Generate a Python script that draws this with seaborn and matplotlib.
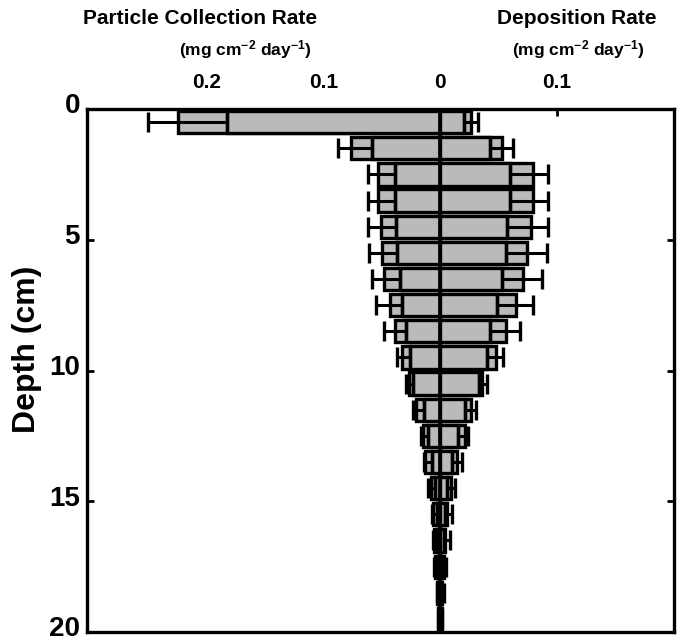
import numpy as np
import pandas as pd
import matplotlib
matplotlib.use("Agg")
import matplotlib.pyplot as plt
import matplotlib.transforms as mtransforms
import seaborn as sns

# depth of each sediment slice (cm, centre of slice)
depth = [0.5, 1.5, 2.5, 3.5, 4.5, 5.5, 6.5, 7.5, 8.5, 9.5,
         10.5, 11.5, 12.5, 13.5, 14.5, 15.5, 16.5, 17.5, 18.5, 19.5]

# particle collection rate (drawn to the left), mg cm-2 day-1
coll_outer = [0.224, 0.076, 0.053, 0.053, 0.051, 0.050, 0.048, 0.043, 0.039, 0.033,
              0.027, 0.021, 0.015, 0.013, 0.008, 0.006, 0.005, 0.004, 0.003, 0.002]
coll_inner = [0.182, 0.058, 0.039, 0.039, 0.038, 0.037, 0.034, 0.033, 0.029, 0.026,
              0.023, 0.014, 0.010, 0.007, 0.004, 0.003, 0.003, 0.002, 0.002, 0.001]
coll_cap = [0.250, 0.087, 0.062, 0.062, 0.062, 0.061, 0.058, 0.055, 0.048, 0.037,
            0.029, 0.023, 0.016, 0.014, 0.010, 0.007, 0.006, 0.005, 0.003, 0.002]

# deposition rate (drawn to the right), mg cm-2 day-1
dep_outer = [0.026, 0.053, 0.079, 0.079, 0.078, 0.074, 0.071, 0.065, 0.056, 0.048,
             0.036, 0.026, 0.021, 0.014, 0.009, 0.006, 0.004, 0.003, 0.002, 0.002]
dep_inner = [0.020, 0.043, 0.060, 0.060, 0.057, 0.056, 0.053, 0.049, 0.043, 0.040,
             0.033, 0.021, 0.015, 0.010, 0.006, 0.004, 0.003, 0.002, 0.001, 0.001]
dep_cap = [0.032, 0.062, 0.092, 0.092, 0.092, 0.091, 0.087, 0.079, 0.068, 0.054,
           0.040, 0.031, 0.024, 0.019, 0.013, 0.010, 0.008, 0.005, 0.003, 0.002]

x_ticks = [-0.2, -0.1, 0, 0.1]
x_ticklabels = ["0.2", "0.1", "0", "0.1"]
y_ticks = [0, 5, 10, 15, 20]

sns.set_style("ticks")
plt.rcParams['font.family'] = ['Liberation Sans', 'DejaVu Sans']
plt.rcParams['font.weight'] = 'bold'
plt.rcParams['text.color'] = 'black'
plt.rcParams['axes.labelcolor'] = 'black'
plt.rcParams['xtick.color'] = 'black'
plt.rcParams['ytick.color'] = 'black'
plt.rcParams['axes.edgecolor'] = 'black'
plt.rcParams['mathtext.fontset'] = 'custom'
plt.rcParams['mathtext.rm'] = 'Liberation Sans:bold'
plt.rcParams['mathtext.default'] = 'rm'

df = pd.DataFrame({
    'depth': depth,
    'coll_outer': -np.array(coll_outer), 'coll_inner': -np.array(coll_inner),
    'dep_outer': np.array(dep_outer), 'dep_inner': np.array(dep_inner),
})

fig = plt.figure(figsize=(6.82, 6.44), dpi=100)
ax = fig.add_axes([0.1276, 0.0186, 0.8607, 0.8121])

gray = '#bababa'
for col in ['coll_outer', 'coll_inner', 'dep_outer', 'dep_inner']:
    sns.barplot(data=df, x=col, y='depth', orient='y', native_scale=True,
                color=gray, saturation=1, width=0.85, errorbar=None,
                edgecolor='black', linewidth=2.4, ax=ax)

d = np.array(depth)
co, ci, cc = np.array(coll_outer), np.array(coll_inner), np.array(coll_cap)
do, di, dc = np.array(dep_outer), np.array(dep_inner), np.array(dep_cap)
ax.errorbar(-co, d, xerr=[cc - co, co - ci], fmt='none', ecolor='black',
            elinewidth=2.2, capsize=7.5, capthick=2.4, zorder=3)
ax.errorbar(do, d, xerr=[do - di, dc - do], fmt='none', ecolor='black',
            elinewidth=2.2, capsize=7.5, capthick=2.4, zorder=3)
ax.axvline(0, color='black', lw=2.6, zorder=4)

ax.set_xlim(-0.302, 0.2)
ax.set_ylim(20, 0)
ax.set_xticks(x_ticks)
ax.set_xticklabels(x_ticklabels)
ax.set_yticks(y_ticks)
ax.xaxis.tick_top()
ax.tick_params(axis='x', which='both', direction='in', length=5, width=2,
               top=True, bottom=False, labeltop=True, labelbottom=False,
               labelsize=15, pad=12)
ax.tick_params(axis='y', direction='in', length=5, width=2, left=True, right=True,
               labelsize=20, pad=5)
for sp in ax.spines.values():
    sp.set_linewidth(2.4)
    sp.set_color('black')
    sp.set_visible(True)

ax.set_xlabel("")
ax.set_ylabel("Depth (cm)", fontsize=23, fontweight='bold')
ax.yaxis.set_label_coords(-0.077, 0.54)

fig.text(0.293, 0.971, "Particle Collection Rate", ha='center', va='center',
         fontsize=15, fontweight='bold')
fig.text(0.359, 0.923, "(mg cm$^{-2}$ day$^{-1}$)", ha='center', va='center',
         fontsize=12.5, fontweight='bold')
fig.text(0.845, 0.971, "Deposition Rate", ha='center', va='center',
         fontsize=15, fontweight='bold')
fig.text(0.848, 0.923, "(mg cm$^{-2}$ day$^{-1}$)", ha='center', va='center',
         fontsize=12.5, fontweight='bold')

# nudge depth labels up a little so "20" stays inside the figure
shift = mtransforms.ScaledTranslation(0, 4 / 72, fig.dpi_scale_trans)
for lab in ax.get_xticklabels() + ax.get_yticklabels():
    lab.set_fontweight('bold')
for lab in ax.get_yticklabels():
    lab.set_transform(lab.get_transform() + shift)

fig.savefig("out.png", dpi=100)
